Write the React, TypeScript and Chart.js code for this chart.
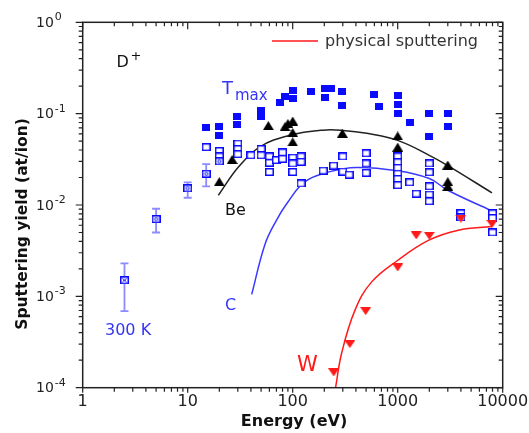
import React, { useEffect, useRef } from "react";
import { Chart, registerables } from "chart.js";

Chart.register(...registerables);

// ---- Axis ticks ----
const xTickValues = [1, 10, 100, 1000, 10000];
const xTickLabels = ["1", "10", "100", "1000", "10000"];
const yTickValues = [1, 0.1, 0.01, 0.001, 0.0001];
const yTickExponents = ["0", "-1", "-2", "-3", "-4"];

// ---- T_max (filled blue squares) ----
const tmaxX = [15, 20, 20, 29.5, 29.5, 50, 50, 75, 85, 100, 100, 150, 202, 231, 202, 295, 295, 590, 660, 1000, 1000, 1000, 1300, 2000, 2000, 3000, 3000];
const tmaxY = [0.071, 0.073, 0.058, 0.092, 0.077, 0.107, 0.092, 0.132, 0.155, 0.18, 0.148, 0.174, 0.19, 0.19, 0.152, 0.174, 0.124, 0.163, 0.119, 0.16, 0.125, 0.1, 0.081, 0.1, 0.056, 0.1, 0.073];

// ---- C (open blue squares) ----
const openX = [15, 20, 20, 30, 30, 30, 40, 50, 50, 60, 60, 60, 70, 80, 80, 100, 100, 100, 120, 120, 120, 195, 245, 300, 300, 345, 500, 500, 500, 1000, 1000, 1000, 1000, 1000, 1000, 1300, 1500, 2000, 2000, 2000, 2000, 2000, 4000, 4000, 8000, 8000, 8000];
const openY = [0.043, 0.039, 0.034, 0.047, 0.041, 0.036, 0.035, 0.041, 0.035, 0.034, 0.029, 0.023, 0.031, 0.0376, 0.032, 0.033, 0.0285, 0.023, 0.034, 0.0297, 0.0172, 0.0238, 0.027, 0.034, 0.0232, 0.0215, 0.0368, 0.0285, 0.0225, 0.034, 0.0294, 0.0255, 0.022, 0.0193, 0.0165, 0.0177, 0.0133, 0.0285, 0.0228, 0.016, 0.013, 0.011, 0.0081, 0.0073, 0.0081, 0.0072, 0.005];

// ---- C with error bars (300 K and low energy) ----
const errX = [2.5, 5, 10, 15, 20];
const errY = [0.0015, 0.007, 0.0152, 0.022, 0.030];
const errLo = [0.00069, 0.005, 0.012, 0.016, 0.030];
const errHi = [0.0023, 0.0091, 0.0177, 0.028, 0.030];

// ---- Be (black triangles) ----
const beX = [20, 26.5, 58.6, 84.5, 90, 100, 100, 100, 297, 1000, 1000, 3000, 3000, 3000];
const beY = [0.018, 0.0315, 0.074, 0.072, 0.078, 0.083, 0.062, 0.049, 0.061, 0.057, 0.043, 0.0274, 0.018, 0.016];

// ---- W (red down triangles) ----
const wX = [246, 350, 495, 1000, 1500, 2000, 4000, 7900];
const wY = [0.000147, 0.0003, 0.00069, 0.00207, 0.00465, 0.0046, 0.0071, 0.0062];

// ---- Physical sputtering curves ----
const beFitX = [19.6, 30.4, 48.7, 94, 195, 300, 507, 1000, 2000, 3000, 7900];
const beFitY = [0.0128, 0.026, 0.0434, 0.058, 0.066, 0.0655, 0.0609, 0.051, 0.035, 0.027, 0.0136];
const cFitX = [40.7, 54.4, 70, 88, 131, 226, 405, 1000, 2000, 3000, 7900];
const cFitY = [0.00105, 0.0037, 0.0068, 0.0104, 0.018, 0.0232, 0.0258, 0.0237, 0.0195, 0.0145, 0.0086];
const wFitX = [256, 292, 392, 565, 1011, 1961, 3780, 7900];
const wFitY = [0.0001, 0.000237, 0.000706, 0.00144, 0.0025, 0.0041, 0.0053, 0.0058];

const BLUE = "#0a0aff";
const BLUE_TXT = "#3535f5";
const RED = "#ff1a1a";
const FONT = "'DejaVu Sans', sans-serif";

function mk(w: number, h: number, draw: (c: CanvasRenderingContext2D) => void) {
  const cv = document.createElement("canvas");
  cv.width = w;
  cv.height = h;
  const c = cv.getContext("2d")!;
  draw(c);
  return cv;
}

function pts(xs: number[], ys: number[]) {
  return xs.map((x, i) => ({ x, y: ys[i] }));
}

export default function App() {
  const ref = useRef<HTMLCanvasElement>(null);

  useEffect(() => {
    const filledSq = mk(8, 7, (c) => {
      c.fillStyle = BLUE;
      c.fillRect(0, 0, 8, 7);
    });
    const openSq = mk(9, 8, (c) => {
      c.fillStyle = "#fff";
      c.fillRect(0, 0, 9, 8);
      c.strokeStyle = BLUE;
      c.lineWidth = 1.5;
      c.strokeRect(0.75, 0.75, 7.5, 6.5);
    });
    const dotSq = mk(9, 8, (c) => {
      c.fillStyle = "#fff";
      c.fillRect(0, 0, 9, 8);
      c.strokeStyle = BLUE;
      c.lineWidth = 1.5;
      c.strokeRect(0.75, 0.75, 7.5, 6.5);
      c.lineWidth = 1;
      c.beginPath();
      c.arc(4.5, 4, 1.5, 0, Math.PI * 2);
      c.stroke();
    });
    const xSq = mk(9, 8, (c) => {
      c.fillStyle = "#fff";
      c.fillRect(0, 0, 9, 8);
      c.strokeStyle = BLUE;
      c.lineWidth = 1.5;
      c.strokeRect(0.75, 0.75, 7.5, 6.5);
      c.lineWidth = 1;
      c.beginPath();
      c.moveTo(2.5, 2.5);
      c.lineTo(6.5, 5.5);
      c.moveTo(6.5, 2.5);
      c.lineTo(2.5, 5.5);
      c.stroke();
    });
    const triUp = mk(11, 9, (c) => {
      c.fillStyle = "#000";
      c.beginPath();
      c.moveTo(5.5, 0);
      c.lineTo(11, 9);
      c.lineTo(0, 9);
      c.closePath();
      c.fill();
    });
    const triDown = mk(11, 8, (c) => {
      c.fillStyle = RED;
      c.beginPath();
      c.moveTo(0, 0);
      c.lineTo(11, 0);
      c.lineTo(5.5, 8);
      c.closePath();
      c.fill();
    });

    const framePlugin = {
      id: "frame",
      beforeDatasetsDraw(chart: any) {
        const { ctx } = chart;
        const xs = chart.scales.x;
        const ys = chart.scales.y;
        ctx.save();
        ctx.strokeStyle = "#8c8cff";
        ctx.lineWidth = 1.8;
        errX.forEach((x, i) => {
          if (errLo[i] === errHi[i]) return;
          const px = xs.getPixelForValue(x);
          const p1 = ys.getPixelForValue(errLo[i]);
          const p2 = ys.getPixelForValue(errHi[i]);
          ctx.beginPath();
          ctx.moveTo(px, p1);
          ctx.lineTo(px, p2);
          ctx.moveTo(px - 4, p1);
          ctx.lineTo(px + 4, p1);
          ctx.moveTo(px - 4, p2);
          ctx.lineTo(px + 4, p2);
          ctx.stroke();
        });
        ctx.restore();
      },
      afterDraw(chart: any) {
        const { ctx, chartArea } = chart;
        const { left, right, top, bottom } = chartArea;
        const xs = chart.scales.x;
        const ys = chart.scales.y;
        ctx.save();
        ctx.strokeStyle = "#222";
        ctx.lineWidth = 1.5;
        ctx.strokeRect(left, top, right - left, bottom - top);
        ctx.lineWidth = 1.2;
        const MAJ = 7;
        const MIN = 4;
        // x ticks
        for (let e = 0; e <= 4; e++) {
          for (let m = 1; m <= 9; m++) {
            const v = m * Math.pow(10, e);
            if (v > 10000) break;
            const px = xs.getPixelForValue(v);
            const len = m === 1 ? MAJ : MIN;
            ctx.beginPath();
            ctx.moveTo(px, bottom);
            ctx.lineTo(px, bottom + (m === 1 ? 5 : MIN));
            ctx.moveTo(px, top);
            ctx.lineTo(px, top + len);
            ctx.stroke();
          }
        }
        // y ticks
        for (let e = -4; e <= 0; e++) {
          for (let m = 1; m <= 9; m++) {
            const v = m * Math.pow(10, e);
            if (v > 1.0001) break;
            const py = ys.getPixelForValue(v);
            const len = m === 1 ? MAJ : MIN;
            ctx.beginPath();
            ctx.moveTo(left, py);
            ctx.lineTo(left - len, py);
            ctx.moveTo(right, py);
            ctx.lineTo(right - len, py);
            ctx.stroke();
          }
        }
        // x tick labels
        ctx.fillStyle = "#222";
        ctx.font = `16px ${FONT}`;
        ctx.textAlign = "center";
        ctx.textBaseline = "middle";
        xTickValues.forEach((v, i) => {
          ctx.fillText(xTickLabels[i], xs.getPixelForValue(v), 402);
        });
        // y tick labels
        ctx.textAlign = "left";
        yTickValues.forEach((v, i) => {
          const py = ys.getPixelForValue(v);
          ctx.font = `14px ${FONT}`;
          ctx.textBaseline = "middle";
          ctx.fillText("10", 36, py + 1);
          const w = ctx.measureText("10").width;
          ctx.font = `11px ${FONT}`;
          ctx.fillText(yTickExponents[i], 36 + w + 1, py - 5);
        });
        // axis titles
        ctx.fillStyle = "#111";
        ctx.font = `bold 16px ${FONT}`;
        ctx.textAlign = "center";
        ctx.fillText("Energy (eV)", 294, 422);
        ctx.save();
        ctx.translate(22.5, 224);
        ctx.rotate(-Math.PI / 2);
        ctx.font = `bold 15.5px ${FONT}`;
        ctx.fillText("Sputtering yield (at/ion)", 0, 0);
        ctx.restore();
        // annotations
        ctx.textAlign = "left";
        ctx.textBaseline = "alphabetic";
        ctx.fillStyle = "#111";
        ctx.font = `16px ${FONT}`;
        ctx.fillText("D", 116.5, 67);
        ctx.font = `13px ${FONT}`;
        ctx.fillText("+", 130.5, 60);
        ctx.fillStyle = BLUE_TXT;
        ctx.font = `18px ${FONT}`;
        ctx.fillText("T", 222, 93.5);
        ctx.font = `15px ${FONT}`;
        ctx.fillText("max", 235, 100);
        ctx.fillStyle = "#111";
        ctx.font = `16px ${FONT}`;
        ctx.fillText("Be", 225, 215);
        ctx.fillStyle = BLUE_TXT;
        ctx.fillText("C", 225, 310);
        ctx.fillText("300 K", 105, 335);
        ctx.fillStyle = RED;
        ctx.font = `21px ${FONT}`;
        ctx.fillText("W", 297, 370.5);
        // legend
        ctx.strokeStyle = RED;
        ctx.lineWidth = 1.5;
        ctx.beginPath();
        ctx.moveTo(272, 41);
        ctx.lineTo(318, 41);
        ctx.stroke();
        ctx.fillStyle = "#333";
        ctx.font = `16px ${FONT}`;
        ctx.textBaseline = "middle";
        ctx.fillText("physical sputtering", 325, 42);
        ctx.restore();
      },
    };

    const lineDs = (xs: number[], ys: number[], color: string) => ({
      data: pts(xs, ys),
      showLine: true,
      borderColor: color,
      borderWidth: 1.5,
      pointRadius: 0,
      fill: false,
      tension: 0.4,
    });

    const chart = new Chart(ref.current!, {
      type: "scatter",
      data: {
        datasets: [
          {
            data: pts(wX, wY),
            pointStyle: triDown as any,
            pointRadius: 4,
          },
          {
            data: pts(beX, beY),
            pointStyle: triUp as any,
            pointRadius: 4,
          },
          {
            data: pts(errX, errY),
            pointStyle: errX.map((_, i) => (i === 0 ? xSq : dotSq)) as any,
            pointRadius: 4,
          },
          {
            data: pts(openX, openY),
            pointStyle: openSq as any,
            pointRadius: 4,
          },
          {
            data: pts(tmaxX, tmaxY),
            pointStyle: filledSq as any,
            pointRadius: 4,
          },
          lineDs(wFitX, wFitY, RED),
          lineDs(cFitX, cFitY, "#3a3aff"),
          lineDs(beFitX, beFitY, "#222"),
        ] as any,
      },
      options: {
        animation: false,
        responsive: false,
        devicePixelRatio: 1,
        events: [],
        layout: { padding: { left: 82.7, right: 26.3, top: 22.3, bottom: 45.3 } },
        scales: {
          x: { type: "logarithmic", min: 1, max: 10000, display: false },
          y: { type: "logarithmic", min: 0.0001, max: 1, display: false },
        },
        plugins: { legend: { display: false }, tooltip: { enabled: false } },
      },
      plugins: [framePlugin],
    });
    return () => chart.destroy();
  }, []);

  return (
    <div style={{ position: "absolute", left: 0, top: 0, width: 529, height: 433, background: "#fff" }}>
      <canvas ref={ref} width={529} height={433} style={{ display: "block" }} />
    </div>
  );
}
